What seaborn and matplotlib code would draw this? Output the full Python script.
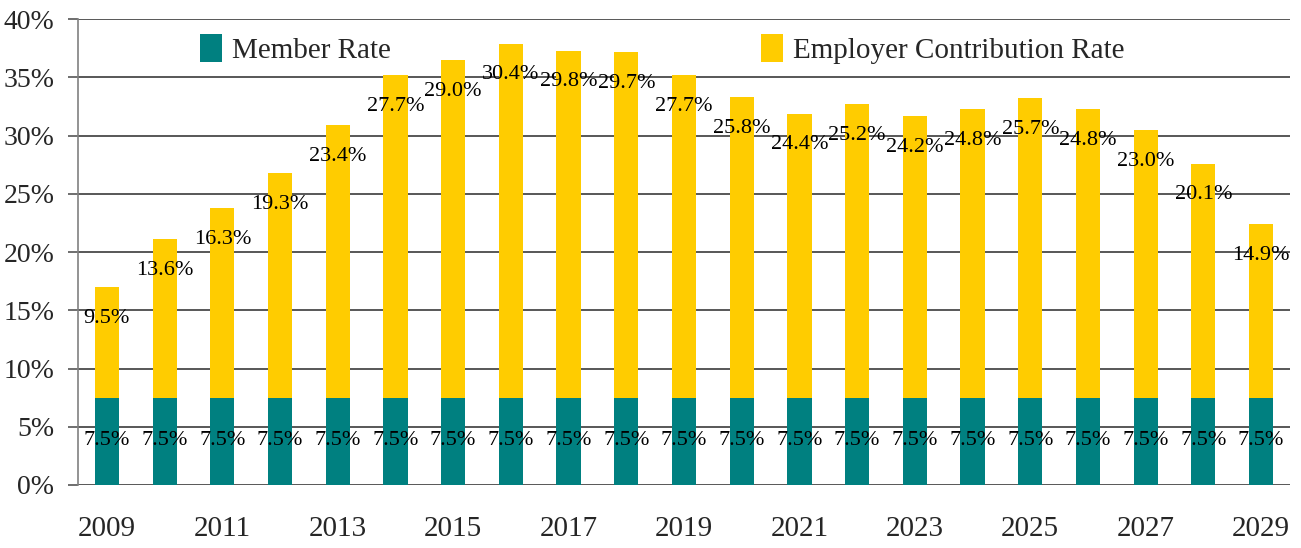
import matplotlib
matplotlib.use("Agg")
import matplotlib.pyplot as plt
import seaborn as sns
import pandas as pd

years = list(range(2009, 2030))
member_rate = [7.5] * 21
employer_rate = [9.5, 13.6, 16.3, 19.3, 23.4, 27.7, 29.0, 30.4, 29.8, 29.7, 27.7,
                 25.8, 24.4, 25.2, 24.2, 24.8, 25.7, 24.8, 23.0, 20.1, 14.9]
y_ticks = [0, 5, 10, 15, 20, 25, 30, 35, 40]

sns.set_theme(style="white")
plt.rcParams['font.family'] = ['Liberation Serif', 'DejaVu Serif']

teal = '#008080'
gold = '#FFCC00'

df = pd.DataFrame({'Year': [str(y) for y in years],
                   'Member': member_rate,
                   'Employer': employer_rate})
df['Total'] = df['Member'] + df['Employer']

fig = plt.figure(figsize=(13.01, 5.48), dpi=100)
ax = fig.add_axes([0.06, 0.115, 0.9315, 0.85])

sns.barplot(data=df, x='Year', y='Total', color=gold, saturation=1, width=0.42,
            ax=ax, label='Employer Contribution Rate', zorder=3, linewidth=0)
sns.barplot(data=df, x='Year', y='Member', color=teal, saturation=1, width=0.42,
            ax=ax, label='Member Rate', zorder=3, linewidth=0)

for i, row in df.iterrows():
    ax.annotate(f"{row['Employer']:.1f}%", (i, row['Total']), xytext=(0, -22.5),
                textcoords='offset points', ha='center', va='center',
                fontsize=16, color='black', zorder=5)
    ax.text(i, row['Member'] / 2 + 0.05, f"{row['Member']:.1f}%", ha='center',
            va='center', fontsize=16, color='black', zorder=5)

ax.set_ylim(0, 40)
ax.set_xlim(-0.5, 20.5)
ax.set_yticks(y_ticks)
ax.set_yticklabels([f"{t}%" for t in y_ticks])
ax.set_xticks(range(0, 21, 2))
ax.set_xticklabels([str(years[i]) for i in range(0, 21, 2)])
ax.set_xlabel('')
ax.set_ylabel('')

ax.yaxis.grid(True, color='#2a2a2a', linewidth=1.1, zorder=0)
ax.set_axisbelow(True)
for s in ['top', 'right', 'bottom']:
    ax.spines[s].set_visible(False)
ax.spines['left'].set_color('#808080')
ax.spines['left'].set_linewidth(1.2)

ax.tick_params(axis='y', which='major', left=True, length=7, width=1.2,
               color='#555555', pad=10, labelsize=20)
ax.tick_params(axis='x', which='major', bottom=False, length=0, pad=22, labelsize=21)

handles, labels = ax.get_legend_handles_labels()
order = [labels.index('Member Rate'), labels.index('Employer Contribution Rate')]
ax.legend([handles[k] for k in order], [labels[k] for k in order], ncol=2,
          loc='center', bbox_to_anchor=(0.482, 0.935), frameon=False,
          fontsize=21, handlelength=0.75, handleheight=1.1, handletextpad=0.35,
          columnspacing=12.7)

plt.savefig('out.png', dpi=100)
plt.close()
